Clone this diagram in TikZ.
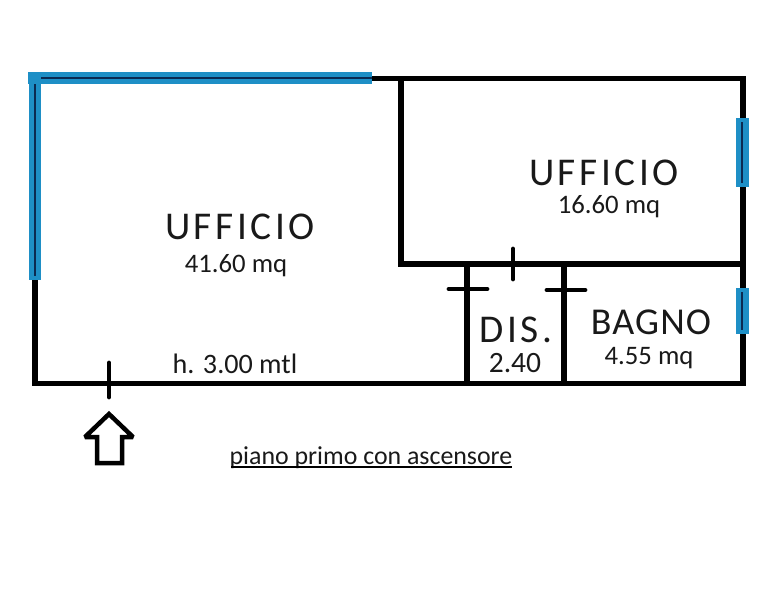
\documentclass[tikz,border=0pt]{standalone}
\usepackage{fontspec}
\setmainfont{Carlito}
\usepackage{xcolor}
\usetikzlibrary{calc}
\definecolor{vetro}{HTML}{1E8FC6}
\definecolor{vetroscuro}{HTML}{0B2A52}

\begin{document}
\begin{tikzpicture}[x=0.025cm, y=-0.025cm]
        \tikzstyle{wall}=[black, line width=3.9pt, line cap=rect]
        \tikzstyle{doortick}=[black, line width=3.4pt, line cap=round]
        \tikzstyle{glass}=[fill=vetro, draw=none]
        \tikzstyle{glassline}=[vetroscuro, line width=1.6pt]
        \tikzstyle{roomname}=[inner sep=0pt, text=black!90, font=\fontsize{28}{28}\selectfont\addfontfeature{LetterSpace=9}]
        \tikzstyle{roomarea}=[inner sep=0pt, text=black!90, font=\fontsize{19}{19}\selectfont]
        \useasboundingbox (0,0) rectangle (777,600);
        
        % angoli della pianta
        \coordinate (nw) at (35,78.5);
        \coordinate (ne) at (743,78.5);
        \coordinate (se) at (743,383.5);
        \coordinate (sw) at (35,383.5);
        \coordinate (ta) at (401,78.5);
        \coordinate (tb) at (401,264);
        \coordinate (tc) at (743,264);
        \coordinate (da) at (467,264);
        \coordinate (db) at (467,383.5);
        \coordinate (dc) at (564,264);
        \coordinate (dd) at (564,383.5);
        
        % muri
        \draw[wall] (nw)--(ne)--(se)--(sw)--cycle;
        \draw[wall] (ta)--(tb)--(tc);
        \draw[wall] (da)--(db);
        \draw[wall] (dc)--(dd);
        
        % porte
        \draw[doortick] (449,289)--(487,289);
        \draw[doortick] (547,290)--(585,290);
        \draw[doortick] (513,249)--(513,279);
        \draw[doortick] (109,363)--(109,397);
        
        % finestre
        \fill[glass] (28,72) rectangle (372,84);
        \fill[glass] (29,72) rectangle (41,280);
        \fill[glass] (736,118) rectangle (749,187);
        \fill[glass] (736,288) rectangle (749,334);
        \draw[glassline] (41,78)--(372,78);
        \draw[glassline] (35,84)--(35,276);
        \draw[glassline] (742,122)--(742,183);
        \draw[glassline] (742,292)--(742,330);
        
        % freccia di ingresso
        \draw[black, line width=3.2pt, miter limit=2] (109,414)--(133,437)--(122,437)--(122,463)--(97,463)--(97,437)--(85,437)--cycle;
        
        % testi
        \node[roomname] (uffgrande) at (240,227) {UFFICIO};
        \node[roomarea] (areagrande) at (236,266) {41.60 mq};
        \node[roomname] (uffpiccolo) at (604,173) {UFFICIO};
        \node[roomarea] (areapiccolo) at (609,207) {16.60 mq};
        \node[roomname, font=\fontsize{27}{27}\selectfont\addfontfeature{LetterSpace=3}] (bagno) at (651,322) {BAGNO};
        \node[roomarea] (areabagno) at (649,358) {4.55 mq};
        \node[roomname] (dis) at (516,330) {DIS.};
        \node[roomarea, font=\fontsize{21}{21}\selectfont] (areadis) at (515,363) {2.40};
        \node[roomarea, font=\fontsize{20}{20}\selectfont] (altezza) at (235,364) {h. 3.00 mtl};
        \node[roomarea, font=\fontsize{18.4}{18.4}\selectfont] (piano) at (371,458) {piano primo con ascensore};
        \draw[black, line width=1pt] (231,467)--(512,467);
    \end{tikzpicture}
\end{document}
